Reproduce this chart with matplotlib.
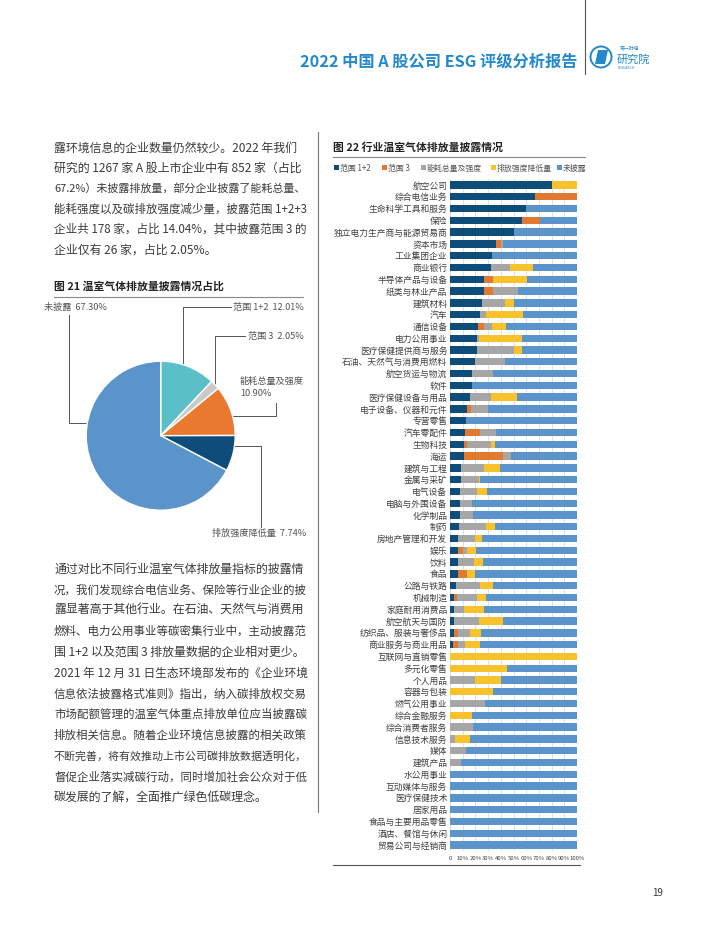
import numpy as np
import matplotlib
matplotlib.use('Agg')
import matplotlib.pyplot as plt
from matplotlib.patches import Circle, Polygon, Rectangle

plt.rcParams['font.family'] = ['Noto Sans CJK SC', 'DejaVu Sans']

# ---- pie data (图 21) ----
pie_labels = ['范围 1+2', '范围 3', '能耗总量及强度', '排放强度降低量', '未披露']
pie_values = [12.01, 2.05, 10.90, 7.74, 67.30]
pie_colors = ['#5BBFC8', '#C9C9C9', '#E8792F', '#0E4C7A', '#5B93CB']

# ---- bar data (图 22) ----
industries = ['航空公司', '综合电信业务', '生命科学工具和服务', '保险', '独立电力生产商与能源贸易商',
              '资本市场', '工业集团企业', '商业银行', '半导体产品与设备', '纸类与林业产品',
              '建筑材料', '汽车', '通信设备', '电力公用事业', '医疗保健提供商与服务',
              '石油、天然气与消费用燃料', '航空货运与物流', '软件', '医疗保健设备与用品',
              '电子设备、仪器和元件', '专营零售', '汽车零配件', '生物科技', '海运', '建筑与工程',
              '金属与采矿', '电气设备', '电脑与外围设备', '化学制品', '制药', '房地产管理和开发',
              '娱乐', '饮料', '食品', '公路与铁路', '机械制造', '家庭耐用消费品', '航空航天与国防',
              '纺织品、服装与奢侈品', '商业服务与商业用品', '互联网与直销零售', '多元化零售',
              '个人用品', '容器与包装', '燃气公用事业', '综合金融服务', '综合消费者服务',
              '信息技术服务', '媒体', '建筑产品', '水公用事业', '互动媒体与服务', '医疗保健技术',
              '居家用品', '食品与主要用品零售', '酒店、餐馆与休闲', '贸易公司与经销商']

scope12 = [80, 67, 60, 57, 50, 36, 33, 32, 27, 27, 25, 23.5, 22, 21, 21, 19.5, 17, 17, 16, 13,
           12.5, 12, 11, 11, 8.5, 8.5, 8, 8, 7.5, 7, 6.5, 6.5, 6, 6, 4.5, 3, 3.5, 3, 3, 2.5,
           0, 0, 0, 0, 0, 0, 0, 0, 0, 0, 0, 0, 0, 0, 0, 0, 0]
scope3 = [0, 33, 0, 14, 0, 4, 0, 0, 6.5, 6.5, 0, 0, 5, 0, 0, 0, 0, 0, 0, 3.5,
          0, 12, 2.5, 31, 0, 0, 0, 0, 0, 0, 0, 3.5, 0, 7, 0, 2.5, 0, 0, 3, 3.5,
          0, 0, 0, 0, 0, 0, 0, 0, 0, 0, 0, 0, 0, 0, 0, 0, 0]
energy = [0, 0, 0, 0, 0, 1.5, 0, 15.5, 0, 20, 18.5, 5, 6, 2, 29, 24, 16.5, 0, 16, 13.5,
          0, 12, 19, 6, 18, 14, 13, 9, 10.5, 21, 13, 3.5, 13, 0, 19, 16, 7.5, 20, 9.5, 6,
          0, 0, 19.5, 0, 27.5, 0, 18, 4, 12.5, 8.5, 0, 0, 0, 0, 0, 0, 0]
intensity = [20, 0, 0, 0, 0, 0, 0, 18, 27, 0, 7, 29, 11, 34, 7, 0, 0, 0, 21, 0,
             0, 0, 3, 0, 13, 1, 8, 0, 0, 7.5, 6, 7, 7, 6.5, 10, 7, 16, 19, 9, 12,
             100, 44.5, 20.5, 33.5, 0, 17, 0, 12, 0, 0, 0, 0, 0, 0, 0, 0, 0]
series_names = ['范围 1+2', '范围 3', '能耗总量及强度', '排放强度降低量', '未披露']
bar_colors = ['#0E4C7A', '#E07A33', '#A6A6A6', '#F8C22C', '#5B93CB']

W, H = 710, 940
fig = plt.figure(figsize=(W / 100, H / 100), dpi=100)
fig.patch.set_facecolor('white')


def box(x0, y0, x1, y1):
    # pixel box (top-left origin) -> figure fraction rect
    return [x0 / W, 1 - y1 / H, (x1 - x0) / W, (y1 - y0) / H]


# page overlay in pixel coordinates
page = fig.add_axes([0, 0, 1, 1])
page.set_xlim(0, W)
page.set_ylim(H, 0)
page.axis('off')

txt = '#3A3A3A'

# header
page.text(300, 62, '2022 中国 A 股公司 ESG 评级分析报告', fontsize=11.7, fontweight='bold',
          color='#2389CC', va='center', ha='left')
page.plot([585, 585], [0, 74], color='#555555', lw=0.8)
page.add_patch(Circle((601, 57), 10.5, fill=False, ec='#2389CC', lw=1.4))
page.add_patch(Polygon([[595, 64], [598, 50], [608, 50], [605, 64]], closed=True,
                       fc='#2389CC', ec='none'))
page.text(620, 49, '第一财经', fontsize=3.5, color='#2389CC', va='center')
page.text(617, 59, '研究院', fontsize=8, color='#2389CC', va='center')
page.text(618, 68, 'RESEARCH', fontsize=2.5, color='#2389CC', va='center')

# column divider
page.plot([318, 318], [132, 812], color='#777777', lw=0.8)

renderer = fig.canvas.get_renderer()


def body_line(x, yy, s, size=8.6, max_w=251):
    t = page.text(x, yy, s, fontsize=size, color=txt, va='center')
    w = t.get_window_extent(renderer=renderer).width
    if w > max_w:
        t.set_fontsize(size * max_w / w)
    return t


# paragraph 1
para1 = ['露环境信息的企业数量仍然较少。2022 年我们',
         '研究的 1267 家 A 股上市企业中有 852 家（占比',
         '67.2%）未披露排放量，部分企业披露了能耗总量、',
         '能耗强度以及碳排放强度减少量，披露范围 1+2+3',
         '企业共 178 家，占比 14.04%，其中披露范围 3 的',
         '企业仅有 26 家，占比 2.05%。']
for i, line in enumerate(para1):
    body_line(54, 148 + i * 20.4, line)

para2 = ['通过对比不同行业温室气体排放量指标的披露情',
         '况，我们发现综合电信业务、保险等行业企业的披',
         '露显著高于其他行业。在石油、天然气与消费用',
         '燃料、电力公用事业等碳密集行业中，主动披露范',
         '围 1+2 以及范围 3 排放量数据的企业相对更少。',
         '2021 年 12 月 31 日生态环境部发布的《企业环境',
         '信息依法披露格式准则》指出，纳入碳排放权交易',
         '市场配额管理的温室气体重点排放单位应当披露碳',
         '排放相关信息。随着企业环境信息披露的相关政策',
         '不断完善，将有效推动上市公司碳排放数据透明化，',
         '督促企业落实减碳行动，同时增加社会公众对于低',
         '碳发展的了解，全面推广绿色低碳理念。']
for i, line in enumerate(para2):
    body_line(54, 569 + i * 20.8, line)

# figure 21 title
page.text(54, 286, '图 21 温室气体排放量披露情况占比', fontsize=7.8, fontweight='bold',
          color='#222222', va='center')
page.plot([54, 303], [297, 297], color='#888888', lw=0.8)

# pie
pax = fig.add_axes(box(86.2, 361.2, 235.2, 510.2))
pax.pie(pie_values, colors=pie_colors, startangle=90, counterclock=False, radius=1,
        wedgeprops=dict(edgecolor='white', linewidth=1.0))
pax.set_xlim(-1, 1)
pax.set_ylim(-1, 1)
pax.set_aspect('equal')
pax.axis('off')

lc = '#555555'
lf = 6.6
pc = '#555555'
# 未披露
page.plot([69, 69, 105], [315, 423, 423], color=lc, lw=0.7)
page.text(44, 307, '%s  %.2f%%' % (pie_labels[4], pie_values[4]), fontsize=lf, color=pc, va='center')
# 范围 1+2
page.plot([231, 183, 183], [307, 307, 376], color=lc, lw=0.7)
page.text(233, 307, '%s  %.2f%%' % (pie_labels[0], pie_values[0]), fontsize=lf, color=pc, va='center')
# 范围 3
page.plot([245, 215, 215], [336, 336, 385], color=lc, lw=0.7)
page.text(248, 336, '%s  %.2f%%' % (pie_labels[1], pie_values[1]), fontsize=lf, color=pc, va='center')
# 能耗总量及强度
page.plot([276, 276, 218], [403, 416, 416], color=lc, lw=0.7)
page.text(240, 381, pie_labels[2], fontsize=lf, color=pc, va='center')
page.text(240, 393, '%.2f%%' % pie_values[2], fontsize=lf, color=pc, va='center')
# 排放强度降低量
page.plot([228, 261, 261], [446, 446, 527], color=lc, lw=0.7)
page.text(212, 533, '%s  %.2f%%' % (pie_labels[3], pie_values[3]), fontsize=lf, color=pc, va='center')

# figure 22 title
page.text(333, 147, '图 22 行业温室气体排放量披露情况', fontsize=7.8, fontweight='bold',
          color='#222222', va='center')
page.plot([333, 585], [157, 157], color='#888888', lw=0.8)

# legend
leg_x = [334, 382, 421, 491, 557]
for lx, name, col in zip(leg_x, series_names, bar_colors):
    page.add_patch(Rectangle((lx, 165), 5, 5, fc=col, ec='none'))
    page.text(lx + 5.5, 168, name, fontsize=5.7, color='#555555', va='center')

# stacked bars
none_ = [100 - a - b - c - d for a, b, c, d in zip(scope12, scope3, energy, intensity)]
data = np.array([scope12, scope3, energy, intensity, none_])
y = np.arange(len(industries))

bax = fig.add_axes(box(450, 179.1, 577, 850.9))
left = np.zeros(len(industries))
for vals, col in zip(data, bar_colors):
    bax.barh(y, vals, left=left, height=0.62, color=col, zorder=3)
    left += vals
bax.set_xlim(0, 100)
bax.set_ylim(len(industries) - 0.5, -0.5)
bax.set_yticks(y)
bax.set_yticklabels(industries, fontsize=6.3, color='#404040')
bax.set_xticks(np.arange(0, 101, 10))
bax.set_xticklabels(['0'] + ['%d%%' % v for v in range(10, 101, 10)], fontsize=4.3, color='#404040')
bax.tick_params(length=0, pad=2)
bax.tick_params(axis='x', pad=4)
bax.xaxis.grid(True, color='#D3DCE6', lw=0.6, zorder=0)
bax.set_axisbelow(True)
for s in bax.spines.values():
    s.set_visible(False)

page.plot([333, 580], [865, 865], color='#555555', lw=0.8)

# page number
page.text(652, 893, '19', fontsize=7, color='#333333', va='center')

fig.savefig('out.png', dpi=100, facecolor='white')
